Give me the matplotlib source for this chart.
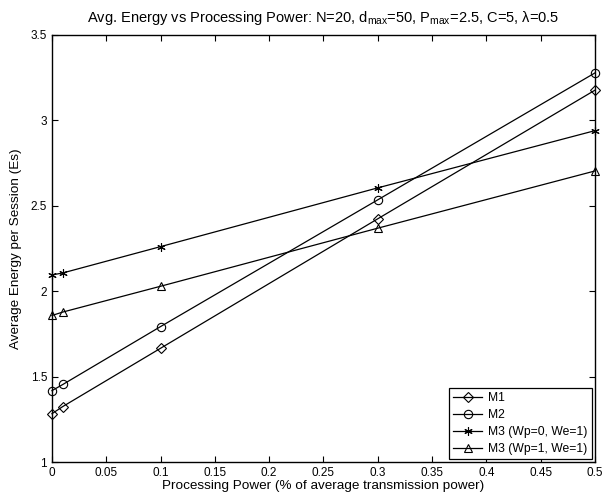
import matplotlib
matplotlib.use("Agg")
import matplotlib.pyplot as plt

plt.rcParams['font.family'] = ['Liberation Sans', 'DejaVu Sans']
plt.rcParams['mathtext.fontset'] = 'custom'
plt.rcParams['mathtext.rm'] = 'Liberation Sans'
plt.rcParams['mathtext.it'] = 'Liberation Sans'

x = [0, 0.01, 0.1, 0.3, 0.5]
m1 = [1.283, 1.325, 1.666, 2.424, 3.177]
m2 = [1.418, 1.454, 1.793, 2.535, 3.278]
m3_wp0 = [2.095, 2.107, 2.261, 2.605, 2.940]
m3_wp1 = [1.858, 1.878, 2.029, 2.369, 2.704]

labels = ['M1', 'M2', 'M3 (Wp=0, We=1)', 'M3 (Wp=1, We=1)']
xticks = [0, 0.05, 0.1, 0.15, 0.2, 0.25, 0.3, 0.35, 0.4, 0.45, 0.5]
xticklabels = ['0', '0.05', '0.1', '0.15', '0.2', '0.25', '0.3', '0.35', '0.4', '0.45', '0.5']
yticks = [1, 1.5, 2, 2.5, 3, 3.5]
yticklabels = ['1', '1.5', '2', '2.5', '3', '3.5']

fig = plt.figure(figsize=(6.13, 4.99), dpi=100)
ax = fig.add_axes([0.0848, 0.0741, 0.8858, 0.8558])

styles = [
    dict(marker='D', markersize=5),
    dict(marker='o', markersize=6),
    dict(marker=(6, 2, 0), markersize=6),
    dict(marker='^', markersize=6),
]
for ys, lab, st in zip([m1, m2, m3_wp0, m3_wp1], labels, styles):
    ax.plot(x, ys, color='black', linewidth=0.9, markerfacecolor='none',
            markeredgecolor='black', markeredgewidth=0.8, label=lab,
            clip_on=False, zorder=3, **st)

ax.set_xlim(0, 0.5)
ax.set_ylim(1, 3.5)
ax.set_xticks(xticks)
ax.set_xticklabels(xticklabels)
ax.set_yticks(yticks)
ax.set_yticklabels(yticklabels)
ax.tick_params(direction='in', top=True, right=True, labelsize=8.5, length=4, width=0.8)
for s in ax.spines.values():
    s.set_linewidth(1.0)

ax.set_xlabel('Processing Power (% of average transmission power)', fontsize=9.7, labelpad=1)
ax.set_ylabel('Average Energy per Session (Es)', fontsize=9.7, labelpad=6)
ax.set_title(r'Avg. Energy vs Processing Power: N=20, d$_{\rm max}$=50, P$_{\rm max}$=2.5, C=5, λ=0.5',
             fontsize=10.5, pad=9)

leg = ax.legend(loc='lower right', fontsize=8.7, frameon=True, fancybox=False,
                edgecolor='black', framealpha=1, borderaxespad=0.25,
                handlelength=2.4, labelspacing=0.4, borderpad=0.35, handletextpad=0.5)
leg.get_frame().set_linewidth(0.9)

fig.savefig('out.png', dpi=100)
